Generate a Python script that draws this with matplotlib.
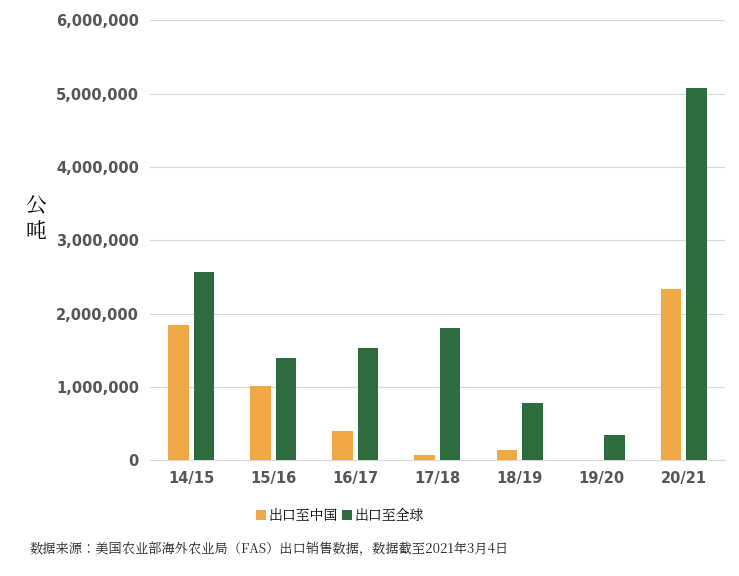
import numpy as np
import matplotlib; matplotlib.use("Agg")
import matplotlib.pyplot as plt
from matplotlib import font_manager as fm
from matplotlib.ticker import FuncFormatter

cjk = [f.name for f in fm.fontManager.ttflist if "CJK" in f.name]
cjk_name = next((n for n in cjk if "SC" in n), cjk[0] if cjk else "DejaVu Sans")
plt.rcParams.update({"font.family": "sans-serif",
                     "font.sans-serif": ["DejaVu Sans", cjk_name]})

seasons = ["14/15", "15/16", "16/17", "17/18", "18/19", "19/20", "20/21"]
to_china = [1840000, 1010000, 400000, 70000, 140000, 0, 2330000]
to_world = [2560000, 1400000, 1530000, 1800000, 780000, 350000, 5070000]

fig = plt.figure(figsize=(7.39, 5.76), dpi=100)
ax = fig.add_axes([0.203, 0.201, 0.778, 0.764])
x = np.arange(len(seasons))
w = 0.25
ax.bar(x - 0.155, to_china, w, color="#F0A847", label="出口至中国", zorder=3)
ax.bar(x + 0.155, to_world, w, color="#2E6B3E", label="出口至全球", zorder=3)
ax.set_ylim(0, 6000000)
ax.set_xlim(-0.5, len(seasons) - 0.5)
ax.set_yticks(np.arange(0, 6000001, 1000000))
ax.yaxis.set_major_formatter(FuncFormatter(lambda v, p: f"{int(v):,}"))
ax.grid(axis="y", color="#d9d9d9", lw=0.8, zorder=0)
for s in ["top", "right", "left"]:
    ax.spines[s].set_visible(False)
ax.spines["bottom"].set_color("#d9d9d9")
ax.tick_params(length=0, labelsize=10.5, colors="#555555", pad=8)
ax.set_xticks(x, seasons)
for t in ax.get_xticklabels() + ax.get_yticklabels():
    t.set_fontweight("bold")
fig.text(0.048, 0.62, "公\n吨", fontsize=15, ha="center", va="center", linespacing=1.3,
         family=cjk_name)
leg = ax.legend(loc="upper center", bbox_to_anchor=(0.33, -0.08), ncol=2, frameon=False,
                prop={"family": cjk_name, "size": 10},
                handlelength=0.7, handletextpad=0.2, columnspacing=0.3)
fig.text(0.04, 0.04, "数据来源：美国农业部海外农业局（FAS）出口销售数据，数据截至2021年3月4日",
         fontsize=9.5, style="italic", color="#222222", family=cjk_name)
fig.savefig("out.png")
